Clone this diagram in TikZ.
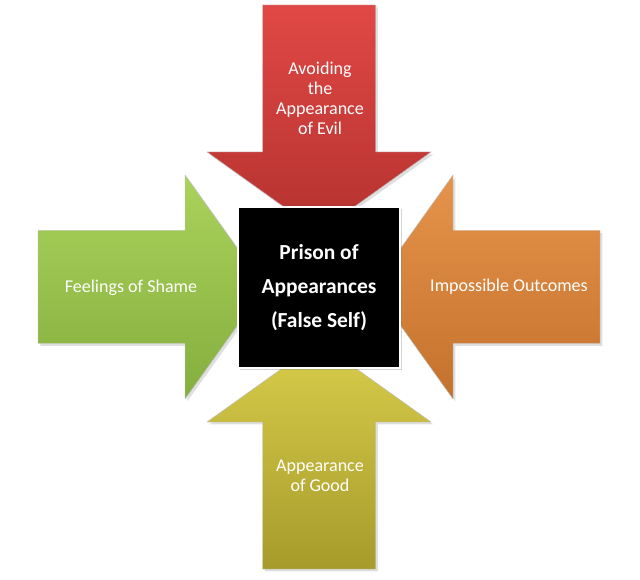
\documentclass[tikz,border=0pt]{standalone}
\usepackage{fontspec}
\setmainfont{Carlito}
\usetikzlibrary{shadows}
\definecolor{evilTop}{HTML}{E04845}
\definecolor{evilBot}{HTML}{B5322F}
\definecolor{shameTop}{HTML}{AAD25C}
\definecolor{shameBot}{HTML}{84AE3E}
\definecolor{outTop}{HTML}{E6944B}
\definecolor{outBot}{HTML}{C4712D}
\definecolor{goodTop}{HTML}{D9CD4B}
\definecolor{goodBot}{HTML}{A69B2B}
\begin{document}
\begin{tikzpicture}[x=0.03cm,y=0.03cm,
	blockarrow/.style={draw=black!25,line width=.4pt,line join=round,drop shadow={opacity=.25,shadow xshift=2pt,shadow yshift=-2pt}},
	txt/.style={text=white,align=center,font=\fontsize{15.4}{17}\selectfont},
	prisonbox/.style={fill=black,draw=white,line width=2.5pt,minimum width=4.86cm,minimum height=4.83cm,
		drop shadow={opacity=.35,shadow xshift=2pt,shadow yshift=-2pt},
		text=white,align=center,font=\bfseries\fontsize{18.3}{29}\selectfont}]
	\useasboundingbox (0,0) rectangle (640,579);
	% arrows pointing in
	\draw[blockarrow,top color=evilTop,bottom color=evilBot] (262.5,574)--(375.5,574)--(375.5,427)--(431,427)--(319,347)--(207,427)--(262.5,427)--cycle;
	\draw[blockarrow,top color=goodTop,bottom color=goodBot] (262.5,10)--(375.5,10)--(375.5,157)--(431,157)--(319,237)--(207,157)--(262.5,157)--cycle;
	\draw[blockarrow,top color=shameTop,bottom color=shameBot] (38,235.5)--(185,235.5)--(185,180)--(265,292)--(185,404)--(185,348.5)--(38,348.5)--cycle;
	\draw[blockarrow,top color=outTop,bottom color=outBot] (600,235.5)--(453,235.5)--(453,180)--(373,292)--(453,404)--(453,348.5)--(600,348.5)--cycle;
	% labels
	\node[txt] (evil) at (320,481) {Avoiding\\the\\Appearance\\of Evil};
	\node[txt] (good) at (320,103) {Appearance\\of Good};
	\node[txt] (shame) at (131,291) {Feelings of Shame};
	\node[txt] (outcomes) at (509,292) {Impossible Outcomes};
	% centre
	\node[prisonbox] (prison) at (319,291.5) {Prison of\\Appearances\\(False Self)};
\end{tikzpicture}
\end{document}
